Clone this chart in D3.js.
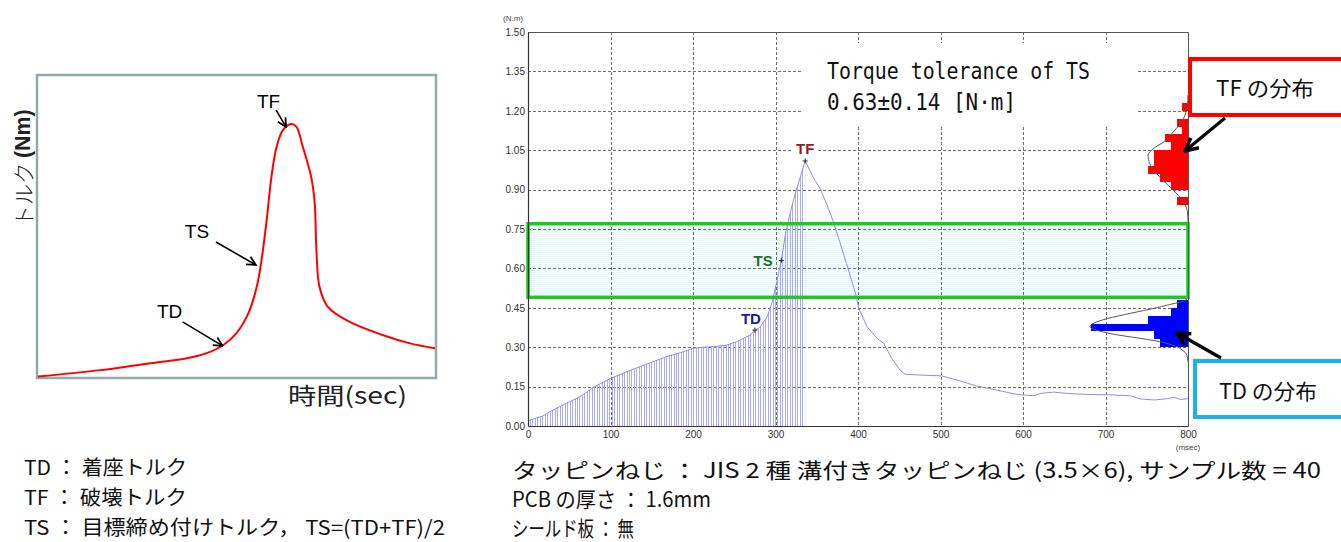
<!DOCTYPE html>
<html>
<head>
<meta charset="utf-8">
<script src="https://cdn.jsdelivr.net/npm/d3@7"></script>
<style>
  body { margin: 0; background: #fff; }
  svg { display: block; }
</style>
</head>
<body>
<svg id="chart" width="1341" height="542"></svg>
<script>
// ---------- schematic torque curve (arbitrary units, 0-100) ----------
const sketchTime   = [0, 15.8, 28.3, 37.5, 42.5, 46.7, 50.0, 53.0, 55.1, 56.3, 57.6, 58.8, 60.1, 61.7, 63.8, 65.1, 66.7, 68.8, 69.7, 70.1, 70.9, 73.0, 78.4, 86.8, 93.5, 100];
const sketchTorque = [0.5, 2.6, 4.9, 6.5, 8.2, 10.9, 14.8, 21.4, 30.1, 38.9, 52.1, 66.4, 76.3, 81.8, 83.8, 82.9, 76.3, 66.4, 57.7, 43.3, 30.1, 23.5, 18.6, 14.2, 11.5, 9.8];
const sketchMarkNames   = ["TF", "TS", "TD"];
const sketchMarkTimes   = [62.5, 54.9, 46.5];
const sketchMarkTorques = [82.8, 37.3, 10.6];

// ---------- measured torque trace ----------
const timeMs = [0, 18, 28, 46, 63, 79, 100, 120, 144, 168, 185, 200, 208, 225, 241, 253, 269, 275, 281, 290, 296, 302, 307, 312, 318, 324, 330, 336,
                346, 354, 360, 368, 376, 386, 397, 401, 411, 423, 431, 441, 451, 457, 475, 501, 520, 544, 568, 593, 613, 621, 637, 653, 678, 702, 730, 742, 759, 775, 783, 791, 800];
const torqueNm = [0.020, 0.038, 0.057, 0.086, 0.111, 0.147, 0.181, 0.207, 0.236, 0.264, 0.279, 0.296, 0.299, 0.302, 0.308, 0.321, 0.346, 0.365, 0.375, 0.416, 0.473, 0.555, 0.630, 0.730, 0.815, 0.885, 0.948, 1.009,
                  0.945, 0.904, 0.860, 0.796, 0.720, 0.619, 0.505, 0.448, 0.378, 0.334, 0.315, 0.257, 0.213, 0.197, 0.194, 0.191, 0.175, 0.152, 0.137, 0.120, 0.115, 0.124, 0.129, 0.124, 0.120, 0.119, 0.115, 0.103, 0.099, 0.104, 0.109, 0.101, 0.104];

const keyNames   = ["TD", "TS", "TF"];
const keyTimes   = [275, 307, 336];
const keyTorques = [0.365, 0.63, 1.009];

const tsTarget = 0.63;
const tsTolerance = 0.14;

const xTicks = [0, 100, 200, 300, 400, 500, 600, 700, 800];
const yTicks = [0.00, 0.15, 0.30, 0.45, 0.60, 0.75, 0.90, 1.05, 1.20, 1.35, 1.50];

// ---------- distributions of 40 samples ----------
const binWidth = 0.03;
const tfBinStart = [0.84, 0.87, 0.90, 0.93, 0.96, 0.99, 1.02, 1.05, 1.08, 1.11, 1.14, 1.17, 1.20];
const tfCounts   = [2, 0, 3, 5, 7, 6, 6, 3, 4, 1, 2, 0, 1];
const tdBinStart = [0.30, 0.33, 0.36, 0.39, 0.42, 0.45];
const tdCounts   = [5, 6, 17, 7, 3, 2];

const tfFitTorque = [1.26, 1.221, 1.170, 1.119, 1.081, 1.056, 1.031, 0.999, 0.961, 0.923, 0.885, 0.853, 0.815, 0.777];
const tfFitCount  = [0, 0.1, 0.8, 2.6, 4.3, 6.1, 7.0, 6.7, 5.5, 3.8, 2.0, 0.8, 0.1, 0];
const tdFitTorque = [0.495, 0.479, 0.460, 0.378, 0.355, 0.321, 0.304, 0.289, 0.270, 0.245];
const tdFitCount  = [0, 0.4, 3.7, 17.2, 14.3, 5.0, 2.2, 1.0, 0.2, 0];

// ---------- texts ----------
const noteLinesLeft  = ["TD ： 着座トルク", "TF ： 破壊トルク", "TS ： 目標締め付けトルク， TS=(TD+TF)/2"];
const noteWidthsLeft = [163, 163, 421];
const noteLinesRight  = ["タッピンねじ ： JIS 2 種 溝付きタッピンねじ (3.5×6), サンプル数 = 40", "PCB の厚さ ： 1.6mm", "シールド板 ： 無"];
const noteWidthsRight = [809, 199, 122];

const jp = "'Noto Sans CJK JP', sans-serif";
const sans = "'Liberation Sans', Arial, sans-serif";
const mono = "'DejaVu Sans Mono', monospace";

const svg = d3.select("#chart");
const defs = svg.append("defs");

// very pale cyan line fill for the tolerance band
const hatch = defs.append("pattern").attr("id", "bandFill")
  .attr("patternUnits", "userSpaceOnUse").attr("width", 4).attr("height", 2);
hatch.append("rect").attr("width", 4).attr("height", 2).attr("fill", "#fbffff");
hatch.append("rect").attr("width", 4).attr("height", 1).attr("fill", "#e4f9fa");

function addArrowHead(id, size, sw) {
  defs.append("marker").attr("id", id)
    .attr("viewBox", "0 0 10 10").attr("refX", 9).attr("refY", 5)
    .attr("markerWidth", size).attr("markerHeight", size)
    .attr("markerUnits", "userSpaceOnUse").attr("orient", "auto")
    .append("path").attr("d", "M1,1 L9,5 L1,9")
    .attr("fill", "none").attr("stroke", "#000").attr("stroke-width", sw)
    .attr("stroke-linejoin", "miter");
}
addArrowHead("headThin", 11, 1.6);
addArrowHead("headBold", 16, 2.2);

// ======================= left schematic =======================
const sx = d3.scaleLinear().domain([0, 100]).range([38, 435]);
const sy = d3.scaleLinear().domain([0, 100]).range([378, 75]);
const left = svg.append("g");

left.append("rect").attr("x", 37).attr("y", 75).attr("width", 399).attr("height", 303)
  .attr("fill", "none").attr("stroke", "#93a9aa").attr("stroke-width", 2.5);

const sketchPts = sketchTime.map((t, i) => [t, sketchTorque[i]]);
left.append("path").datum(sketchPts)
  .attr("d", d3.line().x(d => sx(d[0])).y(d => sy(d[1])).curve(d3.curveCatmullRom.alpha(0.5)))
  .attr("fill", "none").attr("stroke", "#ff0000").attr("stroke-width", 2);

// arrow offsets (start of arrow relative to the pointed spot) and label offsets
const sketchArrowOffset = { TF: [-10, -17], TS: [-40, -23], TD: [-40, -24] };
const sketchLabelOffset = { TF: [-7.5, -2], TS: [-19, -3.7], TD: [-13, -4.3] };
sketchMarkNames.forEach((name, i) => {
  const px = sx(sketchMarkTimes[i]), py = sy(sketchMarkTorques[i]);
  const [ax, ay] = sketchArrowOffset[name];
  const x0 = px + ax, y0 = py + ay;
  left.append("line").attr("x1", x0).attr("y1", y0).attr("x2", px).attr("y2", py)
    .attr("stroke", "#000").attr("stroke-width", 1.6).attr("marker-end", "url(#headThin)");
  const [lx, ly] = sketchLabelOffset[name];
  left.append("text").attr("x", x0 + lx).attr("y", y0 + ly)
    .attr("text-anchor", "middle").attr("font-family", sans).attr("font-size", 19)
    .attr("fill", "#000").text(name);
});

left.append("text").attr("transform", "translate(22,168) rotate(-90)")
  .attr("text-anchor", "middle").attr("dominant-baseline", "central")
  .attr("font-family", jp).attr("font-size", 22).attr("fill", "#222")
  .attr("textLength", 117).attr("lengthAdjust", "spacingAndGlyphs")
  .call(t => {
    t.append("tspan").attr("font-weight", 300).text("トルク ");
    t.append("tspan").attr("font-family", sans).attr("font-weight", "bold").text("(Nm)");
  });

left.append("text").attr("x", 288).attr("y", 404)
  .attr("font-family", jp).attr("font-size", 23).attr("fill", "#222")
  .attr("textLength", 119).attr("lengthAdjust", "spacingAndGlyphs").text("時間(sec)");

noteLinesLeft.forEach((s, i) => {
  svg.append("text").attr("x", 24).attr("y", 475 + i * 30)
    .attr("font-family", jp).attr("font-size", 20).attr("fill", "#111")
    .attr("textLength", noteWidthsLeft[i]).attr("lengthAdjust", "spacingAndGlyphs").text(s);
});

// ======================= measured chart =======================
const plot = { left: 528, right: 1188, top: 32, bottom: 426 };
const x = d3.scaleLinear().domain([0, 800]).range([plot.left, plot.right]);
const y = d3.scaleLinear().domain([0, 1.5]).range([plot.bottom, plot.top]);
const countPx = 5.7;
const cx = d3.scaleLinear().domain([0, 20]).range([plot.right, plot.right - 20 * countPx]);

const main = svg.append("g");

// tolerance band fill
const bandTop = tsTarget + tsTolerance, bandBottom = tsTarget - tsTolerance;
main.append("rect").attr("x", x(0)).attr("y", y(bandTop))
  .attr("width", x(800) - x(0)).attr("height", y(bandBottom) - y(bandTop))
  .attr("fill", "url(#bandFill)");

// dashed grid
main.append("g").selectAll("line").data(xTicks.slice(1, -1)).join("line")
  .attr("x1", d => Math.round(x(d)) + 0.5).attr("x2", d => Math.round(x(d)) + 0.5)
  .attr("y1", plot.top).attr("y2", plot.bottom)
  .attr("stroke", "#6f6f6f").attr("stroke-width", 1).attr("stroke-dasharray", "3,2");
main.append("g").selectAll("line").data(yTicks.slice(1, -1)).join("line")
  .attr("y1", d => Math.round(y(d)) + 0.5).attr("y2", d => Math.round(y(d)) + 0.5)
  .attr("x1", plot.left).attr("x2", plot.right)
  .attr("stroke", "#6f6f6f").attr("stroke-width", 1).attr("stroke-dasharray", "3,2");

// white panel for the tolerance caption
main.append("rect").attr("x", 803).attr("y", 43).attr("width", 334).attr("height", 83).attr("fill", "#fff");
main.append("text").attr("x", 827).attr("y", 79)
  .attr("font-family", mono).attr("font-size", 23).attr("fill", "#111")
  .attr("textLength", 263).attr("lengthAdjust", "spacingAndGlyphs").text("Torque tolerance of TS");
main.append("text").attr("x", 827).attr("y", 110)
  .attr("font-family", mono).attr("font-size", 23).attr("fill", "#111")
  .attr("textLength", 189).attr("lengthAdjust", "spacingAndGlyphs")
  .text(`${tsTarget.toFixed(2)}±${tsTolerance.toFixed(2)} [N·m]`);

// trace: vertical sample lines under the rising part up to TF
const tfTime = keyTimes[2];
const tracePts = timeMs.map((t, i) => [t, torqueNm[i]]);
const risePts = tracePts.filter(d => d[0] <= tfTime);
defs.append("clipPath").attr("id", "underRise").append("path")
  .attr("d", d3.area().x(d => x(d[0])).y0(y(0)).y1(d => y(d[1]))(risePts));
main.append("g").attr("clip-path", "url(#underRise)")
  .selectAll("line").data(d3.range(0, tfTime + 0.5, 3)).join("line")
  .attr("x1", d => x(d)).attr("x2", d => x(d))
  .attr("y1", y(0)).attr("y2", y(1.5))
  .attr("stroke", "#a9a9f5").attr("stroke-width", 1).attr("shape-rendering", "crispEdges");

main.append("path").datum(tracePts)
  .attr("d", d3.line().x(d => x(d[0])).y(d => y(d[1])))
  .attr("fill", "none").attr("stroke", "#8d8df2").attr("stroke-width", 1);

// histograms
main.append("g").selectAll("rect").data(tfBinStart.map((b, i) => [b, tfCounts[i]])).join("rect")
  .attr("x", d => cx(d[1])).attr("width", d => cx(0) - cx(d[1]))
  .attr("y", d => y(d[0] + binWidth)).attr("height", d => y(d[0]) - y(d[0] + binWidth))
  .attr("fill", "#ff0000").attr("shape-rendering", "crispEdges");
main.append("g").selectAll("rect").data(tdBinStart.map((b, i) => [b, tdCounts[i]])).join("rect")
  .attr("x", d => cx(d[1])).attr("width", d => cx(0) - cx(d[1]))
  .attr("y", d => y(d[0] + binWidth)).attr("height", d => y(d[0]) - y(d[0] + binWidth))
  .attr("fill", "#0000ff").attr("shape-rendering", "crispEdges");

const fitLine = d3.line().x(d => cx(d[1])).y(d => y(d[0])).curve(d3.curveMonotoneY);
main.append("path").datum(tfFitTorque.map((v, i) => [v, tfFitCount[i]]).reverse())
  .attr("d", fitLine).attr("fill", "none").attr("stroke", "#555").attr("stroke-width", 1);
main.append("path").datum(tdFitTorque.map((v, i) => [v, tdFitCount[i]]).reverse())
  .attr("d", fitLine).attr("fill", "none").attr("stroke", "#555").attr("stroke-width", 1);

// tolerance band outline
main.append("rect").attr("x", x(0)).attr("y", y(bandTop))
  .attr("width", x(800) - x(0)).attr("height", y(bandBottom) - y(bandTop))
  .attr("fill", "none").attr("stroke", "#1ec81e").attr("stroke-width", 3.5);

// key points TD / TS / TF
const keyColor = { TD: "#1a1a9e", TS: "#1d6e1d", TF: "#9c1b1b" };
keyNames.forEach((name, i) => {
  const px = x(keyTimes[i]), py = y(keyTorques[i]);
  let lx, ly, anchor;
  if (name === "TF") { lx = px; ly = py - 7; anchor = "middle"; }
  else if (name === "TS") { lx = px - 8.5; ly = py + 5; anchor = "end"; }
  else { lx = px + 6; ly = py - 6; anchor = "end"; }
  const label = main.append("text").attr("x", lx).attr("y", ly).attr("text-anchor", anchor)
    .attr("font-family", sans).attr("font-weight", "bold").attr("font-size", 15)
    .attr("fill", keyColor[name]).text(name);
  if (name === "TF") {
    const b = label.node().getBBox();
    main.insert("rect", () => label.node())
      .attr("x", b.x - 4).attr("y", b.y).attr("width", b.width + 8).attr("height", b.height)
      .attr("fill", "#fff");
  }
  main.append("path").attr("d", `M${px - 2.5},${py}H${px + 2.5}M${px},${py - 2.5}V${py + 2.5}`)
    .attr("stroke", "#222").attr("stroke-width", 1);
});

// frame and axes
main.append("path")
  .attr("d", `M${plot.left},${plot.top + 0.5}H${plot.right + 0.5}V${plot.bottom}`)
  .attr("fill", "none").attr("stroke", "#555").attr("stroke-width", 1);

const yAxis = main.append("g").attr("transform", `translate(${plot.left},0)`)
  .call(d3.axisLeft(y).tickValues(yTicks).tickFormat(d3.format(".2f")).tickSize(0).tickPadding(3));
const xAxis = main.append("g").attr("transform", `translate(0,${plot.bottom})`)
  .call(d3.axisBottom(x).tickValues(xTicks).tickFormat(d3.format("d")).tickSize(0).tickPadding(5));
[yAxis, xAxis].forEach(a => {
  a.select(".domain").attr("stroke", "#333").attr("stroke-width", 1.2);
  a.selectAll("text").attr("font-family", sans).attr("font-size", 10).attr("fill", "#333");
});

main.append("text").attr("x", 513).attr("y", 21).attr("text-anchor", "middle")
  .attr("font-family", sans).attr("font-size", 8).attr("fill", "#444").text("(N.m)");
main.append("text").attr("x", x(800)).attr("y", 450).attr("text-anchor", "middle")
  .attr("font-family", sans).attr("font-size", 8).attr("fill", "#444").text("(msec)");

// callouts
const callouts = [
  { label: "TF の分布", x: 1190, y: 59, w: 200, h: 56, color: "#ff0000", tx: 1265, ty: 96, from: [1225, 118], to: [1185, 151] },
  { label: "TD の分布", x: 1195, y: 361, w: 200, h: 56, color: "#1db1e9", tx: 1268, ty: 399, from: [1221, 358], to: [1177, 333] }
];
callouts.forEach(c => {
  svg.append("rect").attr("x", c.x).attr("y", c.y).attr("width", c.w).attr("height", c.h)
    .attr("fill", "#fff").attr("stroke", c.color).attr("stroke-width", 4);
  svg.append("text").attr("x", c.tx).attr("y", c.ty).attr("text-anchor", "middle")
    .attr("font-family", jp).attr("font-size", 21).attr("fill", "#111")
    .attr("textLength", 98).attr("lengthAdjust", "spacingAndGlyphs").text(c.label);
  svg.append("line").attr("x1", c.from[0]).attr("y1", c.from[1]).attr("x2", c.to[0]).attr("y2", c.to[1])
    .attr("stroke", "#000").attr("stroke-width", 3.2).attr("marker-end", "url(#headBold)");
});

noteLinesRight.forEach((s, i) => {
  svg.append("text").attr("x", 512).attr("y", 478 + i * 29)
    .attr("font-family", jp).attr("font-size", 21).attr("fill", "#111")
    .attr("textLength", noteWidthsRight[i]).attr("lengthAdjust", "spacingAndGlyphs").text(s);
});
</script>
</body>
</html>
